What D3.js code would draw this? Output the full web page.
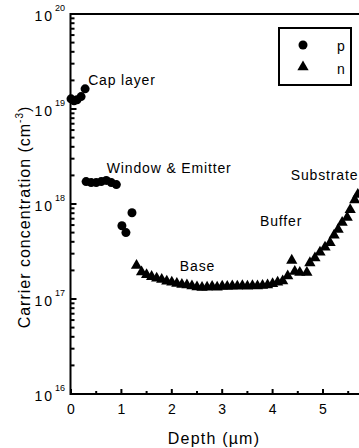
<!DOCTYPE html>
<html>
<head>
<meta charset="utf-8">
<script src="https://cdn.jsdelivr.net/npm/d3@7"></script>
<style>
  body { margin: 0; background: #fff; }
  text { font-family: "Liberation Sans", Arial, sans-serif; fill: #000; }
</style>
</head>
<body>
<svg id="canvas" width="359" height="448"></svg>
<script>
// p-type points (circles)
let pDepth = [0.0, 0.06, 0.12, 0.2, 0.28, 0.3, 0.4, 0.5, 0.6, 0.7, 0.8, 0.9, 1.01, 1.09, 1.21];
let pConc = [1.28e19, 1.22e19, 1.25e19, 1.35e19, 1.63e19, 1.72e18, 1.68e18, 1.68e18, 1.72e18, 1.77e18, 1.68e18, 1.6e18, 5.9e17, 5.0e17, 8.1e17];

// n-type points (triangles)
let nDepth = [1.3, 1.4, 1.5, 1.6, 1.7, 1.8, 1.9, 2.0, 2.1, 2.2, 2.3, 2.4, 2.5, 2.6, 2.7, 2.8, 2.9,
  3.0, 3.1, 3.2, 3.3, 3.4, 3.5, 3.6, 3.7, 3.8, 3.9, 4.0, 4.1, 4.2, 4.3, 4.38, 4.44, 4.54, 4.68,
  4.74, 4.84, 4.94, 5.04, 5.14, 5.22, 5.3, 5.38, 5.48, 5.54, 5.63, 5.69];
let nConc = [2.25e17, 1.92e17, 1.8e17, 1.72e17, 1.65e17, 1.6e17, 1.54e17, 1.5e17, 1.46e17, 1.42e17,
  1.4e17, 1.37e17, 1.34e17, 1.32e17, 1.33e17, 1.35e17, 1.33e17, 1.36e17, 1.35e17, 1.37e17, 1.36e17,
  1.38e17, 1.36e17, 1.38e17, 1.37e17, 1.39e17, 1.4e17, 1.45e17, 1.5e17, 1.55e17, 1.75e17, 2.55e17,
  1.95e17, 1.9e17, 1.9e17, 2.4e17, 2.7e17, 3.1e17, 3.5e17, 3.9e17, 4.7e17, 5.4e17, 6.4e17, 7.2e17,
  8.7e17, 1.1e18, 1.26e18];

let xTicks = [0, 1, 2, 3, 4, 5];
let xMinorTicks = [0.5, 1.5, 2.5, 3.5, 4.5, 5.5];
let yDecades = [16, 17, 18, 19, 20];

let layerLabels = ["Cap layer", "Window & Emitter", "Base", "Buffer", "Substrate"];
let layerAt = [[0.34, 1.79e19], [0.71, 2.12e18], [2.16, 1.97e17], [3.75, 5.87e17], [4.36, 1.79e18]];
let legendNames = ["p", "n"];

let canvas = d3.select("#canvas");

let plotLeft = 70.5, plotRight = 373, plotTop = 14, plotBottom = 394;
let x = d3.scaleLinear().domain([0, 6]).range([plotLeft + 0.5, plotLeft + 0.5 + 6 * 50.4]);
let y = d3.scaleLog().domain([1e16, 1e20]).range([plotBottom, plotTop]);

// frame
canvas.append("rect")
  .attr("x", plotLeft).attr("y", plotTop)
  .attr("width", plotRight - plotLeft).attr("height", plotBottom - plotTop)
  .attr("fill", "none").attr("stroke", "#000").attr("stroke-width", 2);

// x ticks (inward)
canvas.selectAll(".xt").data(xTicks).enter().append("line")
  .attr("x1", (d) => x(d)).attr("x2", (d) => x(d))
  .attr("y1", plotBottom).attr("y2", plotBottom - 5)
  .attr("stroke", "#000").attr("stroke-width", 2);
canvas.selectAll(".xm").data(xMinorTicks).enter().append("line")
  .attr("x1", (d) => x(d)).attr("x2", (d) => x(d))
  .attr("y1", plotBottom).attr("y2", plotBottom - 3)
  .attr("stroke", "#000").attr("stroke-width", 2);
canvas.selectAll(".xl").data(xTicks).enter().append("text")
  .attr("x", (d) => x(d)).attr("y", plotBottom + 20)
  .attr("text-anchor", "middle").attr("font-size", 14)
  .text((d) => d);

// y ticks (inward, log minor ticks)
let yAll = y.ticks();
canvas.selectAll(".yt").data(yAll).enter().append("line")
  .attr("x1", plotLeft).attr("x2", (d) => {
    let m = Math.round(d / Math.pow(10, Math.floor(Math.log10(d) + 1e-9)));
    return plotLeft + (m === 1 ? 6 : 4);
  })
  .attr("y1", (d) => y(d)).attr("y2", (d) => y(d))
  .attr("stroke", "#000").attr("stroke-width", 2);

canvas.selectAll(".yl").data(yDecades).enter().append("text")
  .attr("x", 54).attr("y", (d) => y(Math.pow(10, d)) + 7)
  .attr("text-anchor", "end").attr("font-size", 14).attr("letter-spacing", 2)
  .text("10");
canvas.selectAll(".ys").data(yDecades).enter().append("text")
  .attr("x", 55).attr("y", (d) => y(Math.pow(10, d)) - 3)
  .attr("font-size", 9)
  .text((d) => d);

// axis titles
canvas.append("text")
  .attr("x", 214).attr("y", 444)
  .attr("text-anchor", "middle").attr("font-size", 16).attr("letter-spacing", 1.2)
  .text("Depth (µm)");

let yt = canvas.append("text")
  .attr("transform", "translate(30," + 217 + ") rotate(-90)")
  .attr("text-anchor", "middle").attr("font-size", 16).attr("letter-spacing", 1);
yt.append("tspan").text("Carrier concentration (cm");
yt.append("tspan").attr("font-size", 10).attr("dy", -7).text("-3");
yt.append("tspan").attr("dy", 7).text(")");

// data marks
canvas.selectAll(".p").data(pDepth).enter().append("circle")
  .attr("cx", (d) => x(d)).attr("cy", (d, i) => y(pConc[i]))
  .attr("r", 4.5).attr("fill", "#000");

let tri = d3.symbol().type(d3.symbolTriangle).size(55);
canvas.selectAll(".n").data(nDepth).enter().append("path")
  .attr("d", tri)
  .attr("transform", (d, i) => "translate(" + x(d) + "," + y(nConc[i]) + ")")
  .attr("fill", "#000");

// layer annotations
canvas.selectAll(".lab").data(layerLabels).enter().append("text")
  .attr("x", (d, i) => x(layerAt[i][0])).attr("y", (d, i) => y(layerAt[i][1]))
  .attr("font-size", 14).attr("letter-spacing", 0.85)
  .text((d) => d);

// legend
canvas.append("rect")
  .attr("x", 279).attr("y", 28).attr("width", 72).attr("height", 57)
  .attr("fill", "#fff").attr("stroke", "#000").attr("stroke-width", 2);
canvas.append("circle").attr("cx", 303).attr("cy", 45).attr("r", 4.5).attr("fill", "#000");
canvas.append("path").attr("d", tri).attr("transform", "translate(303,67)").attr("fill", "#000");
canvas.selectAll(".lg").data(legendNames).enter().append("text")
  .attr("x", 337).attr("y", (d, i) => 51 + i * 23)
  .attr("font-size", 14)
  .text((d) => d);
</script>
</body>
</html>
